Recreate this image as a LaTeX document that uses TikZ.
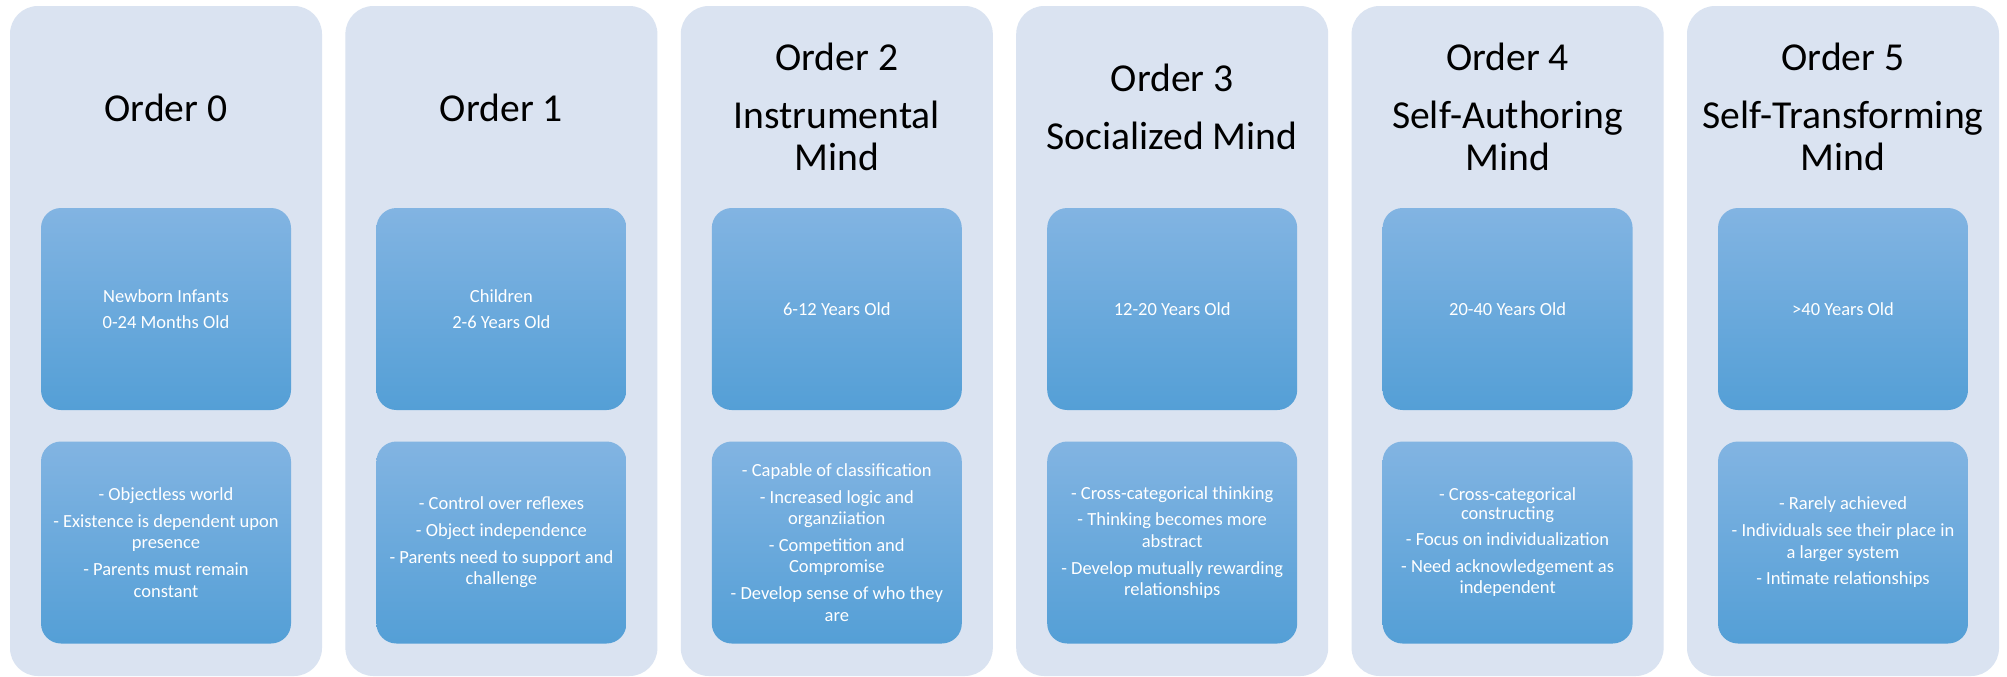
\documentclass[tikz,border=0pt]{standalone}
\usepackage{fontspec}
\setmainfont{Carlito}
\definecolor{outerbg}{RGB}{218,227,241}
\definecolor{boxtop}{RGB}{130,180,226}
\definecolor{boxbot}{RGB}{84,159,214}
\begin{document}
\begin{tikzpicture}[x=0.5pt,y=-0.5pt,
  column/.style={draw=none,fill=outerbg,rounded corners=14pt,minimum width=156pt,minimum height=335pt,inner sep=0pt,outer sep=0pt},
  card/.style={draw=none,top color=boxtop,bottom color=boxbot,rounded corners=10pt,minimum width=125pt,minimum height=101pt,inner sep=0pt,outer sep=0pt,text=white,align=center,font=\fontsize{9.25}{10.75}\selectfont},
  heading/.style={align=center,font=\fontsize{19.8}{21}\selectfont,text=black,inner sep=0pt}]
\useasboundingbox (0,0) rectangle (2007,676);
\fill[white] (0,0) rectangle (2007,676);
% columns
\node[column] (o0) at (166,341) {};
\node[column] (o1) at (501.4,341) {};
\node[column] (o2) at (836.8,341) {};
\node[column] (o3) at (1172.2,341) {};
\node[column] (o4) at (1507.6,341) {};
\node[column] (o5) at (1843,341) {};
% headings
\node[heading] (t0) at (166,108) {Order 0};
\node[heading] (t1) at (501.4,108) {Order 1};
\node[heading] (t2) at (836.8,107) {Order 2\\[8pt]Instrumental\\Mind};
\node[heading] (t3) at (1172.2,107) {Order 3\\[8pt]Socialized Mind};
\node[heading] (t4) at (1507.6,107) {Order 4\\[8pt]Self-Authoring\\Mind};
\node[heading] (t5) at (1843,107) {Order 5\\[8pt]Self-Transforming\\Mind};
% age cards
\node[card] (a0) at (166,309) {Newborn Infants\\[2.6pt]0-24 Months Old};
\node[card] (a1) at (501.4,309) {Children\\[2.6pt]2-6 Years Old};
\node[card] (a2) at (836.8,309) {6-12 Years Old};
\node[card] (a3) at (1172.2,309) {12-20 Years Old};
\node[card] (a4) at (1507.6,309) {20-40 Years Old};
\node[card] (a5) at (1843,309) {>40 Years Old};
% description cards
\node[card] (b0) at (166,542.5) {- Objectless world\\[2.6pt]- Existence is dependent upon\\presence\\[2.6pt]- Parents must remain\\constant};
\node[card] (b1) at (501.4,542.5) {- Control over reflexes\\[2.6pt]- Object independence\\[2.6pt]- Parents need to support and\\challenge};
\node[card] (b2) at (836.8,542.5) {- Capable of classification\\[2.6pt]- Increased logic and\\organziiation\\[2.6pt]- Competition and\\Compromise\\[2.6pt]- Develop sense of who they\\are};
\node[card] (b3) at (1172.2,542.5) {- Cross-categorical thinking\\[2.6pt]- Thinking becomes more\\abstract\\[2.6pt]- Develop mutually rewarding\\relationships};
\node[card] (b4) at (1507.6,542.5) {- Cross-categorical\\[-1.7pt]constructing\\[2.6pt]- Focus on individualization\\[2.6pt]- Need acknowledgement as\\independent};
\node[card] (b5) at (1843,542.5) {- Rarely achieved\\[2.6pt]- Individuals see their place in\\a larger system\\[2.6pt]- Intimate relationships};
\end{tikzpicture}
\end{document}
